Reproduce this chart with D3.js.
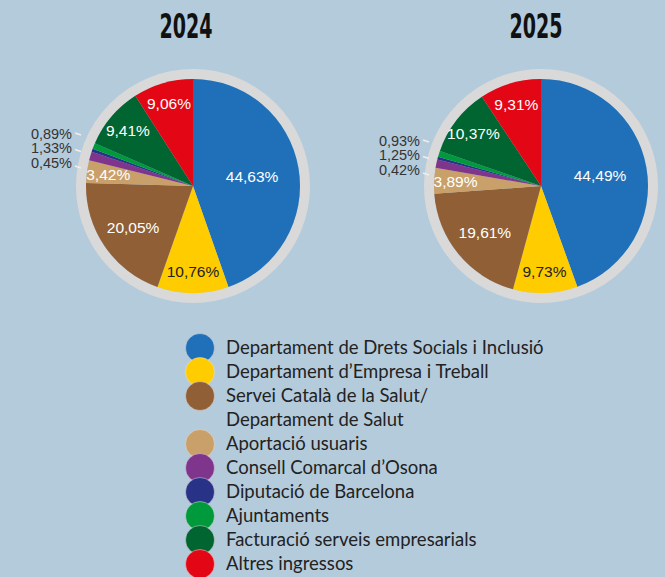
<!DOCTYPE html>
<html>
<head>
<meta charset="utf-8">
<script src="https://cdn.jsdelivr.net/npm/d3@7"></script>
<style>
  html, body { margin: 0; padding: 0; background: #b4cbdc; }
  svg { display: block; }
</style>
</head>
<body>
<div id="chart"></div>
<script>
// Chart data
const categories = [
    "Departament de Drets Socials i Inclusió",
    "Departament d\u2019Empresa i Treball",
    "Servei Català de la Salut/\nDepartament de Salut",
    "Aportació usuaris",
    "Consell Comarcal d\u2019Osona",
    "Diputació de Barcelona",
    "Ajuntaments",
    "Facturació serveis empresarials",
    "Altres ingressos"
];
const colors = ["#1f70b8", "#ffcc00", "#905f35", "#c9a06a", "#7f358c", "#283287", "#009a3d", "#006531", "#e30614"];
const years = ["2024", "2025"];
const values2024 = [44.63, 10.76, 20.05, 3.42, 1.33, 0.45, 0.89, 9.41, 9.06];
const values2025 = [44.49, 9.73, 19.61, 3.89, 1.25, 0.42, 0.93, 10.37, 9.31];
// small slices labelled outside, listed top to bottom
const outsideOrder = [6, 4, 5];

const width = 665;
const height = 577;
const radius = 107;
const ringWidth = 10;

const svg = d3.select("#chart")
    .append("svg")
    .attr("width", width)
    .attr("height", height);

const fmt = v => d3.format(".2f")(v).replace(".", ",") + "%";

const pie = d3.pie().sort(null).value(d => d.value);
const arc = d3.arc().innerRadius(0).outerRadius(radius);

function drawPie(year, values, cx, titleX, outY) {
    const data = values.map((v, i) => ({ value: v, i: i }));
    const g = svg.append("g").attr("transform", `translate(${cx},186)`);

    // title
    svg.append("text")
        .attr("x", titleX)
        .attr("y", 38)
        .attr("text-anchor", "middle")
        .attr("textLength", 53)
        .attr("lengthAdjust", "spacingAndGlyphs")
        .style("font-family", "'DejaVu Sans Condensed', 'DejaVu Sans'")
        .style("font-weight", "bold")
        .style("font-size", "34px")
        .style("fill", "#111")
        .text(year);

    // grey ring
    g.append("circle")
        .attr("r", radius + ringWidth / 2)
        .attr("fill", "none")
        .attr("stroke", "#d9d9d9")
        .attr("stroke-width", ringWidth);

    const arcs = pie(data);

    g.selectAll("path")
        .data(arcs)
        .enter()
        .append("path")
        .attr("d", arc)
        .attr("fill", d => colors[d.data.i]);

    // inside labels
    g.selectAll("text.in")
        .data(arcs.filter(d => d.data.value > 2))
        .enter()
        .append("text")
        .attr("class", "in")
        .attr("transform", d => {
            const share = d.data.value;
            const f = share > 40 ? 0.56 : share > 15 ? 0.68 : 0.8;
            const a = (d.startAngle + d.endAngle) / 2;
            return `translate(${Math.sin(a) * radius * f},${-Math.cos(a) * radius * f})`;
        })
        .attr("text-anchor", "middle")
        .attr("dy", "0.36em")
        .style("font-family", "'Liberation Sans', Arial, sans-serif")
        .style("font-size", "15.5px")
        .style("fill", d => d.data.i === 1 ? "#222" : "#fff")
        .text(d => fmt(d.data.value));

    // outside labels for the tiny slices
    outsideOrder.forEach((idx, k) => {
        const y = outY + k * 14.5 - 186;
        g.append("text")
            .attr("x", -radius - 14)
            .attr("y", y)
            .attr("dy", "0.34em")
            .attr("text-anchor", "end")
            .style("font-family", "'Liberation Sans', Arial, sans-serif")
            .style("font-size", "14.5px")
            .style("fill", "#333")
            .text(fmt(values[idx]));
        g.append("line")
            .attr("x1", -radius - 11)
            .attr("x2", -radius - 5)
            .attr("y1", y - 1 + k * 2)
            .attr("y2", y + 1 + k * 2)
            .attr("stroke", "#eeeeee")
            .attr("stroke-width", 1.5);
    });
}

drawPie(years[0], values2024, 193, 186, 134);
drawPie(years[1], values2025, 541, 536, 141);

// Legend
const legend = svg.append("g").attr("transform", "translate(200,348)");
let row = 0;
categories.forEach((c, i) => {
    const lines = c.split("\n");
    legend.append("circle")
        .attr("cx", 0)
        .attr("cy", row * 24)
        .attr("r", 14.5)
        .attr("fill", colors[i])
        .attr("stroke", "rgba(240,225,225,0.6)")
        .attr("stroke-width", 0.8);
    lines.forEach(l => {
        legend.append("text")
            .attr("x", 26)
            .attr("y", row * 24)
            .attr("dy", "0.35em")
            .style("font-family", "Lato, sans-serif")
            .style("font-size", "18.5px")
            .style("fill", "#222")
            .text(l);
        row++;
    });
});
</script>
</body>
</html>
